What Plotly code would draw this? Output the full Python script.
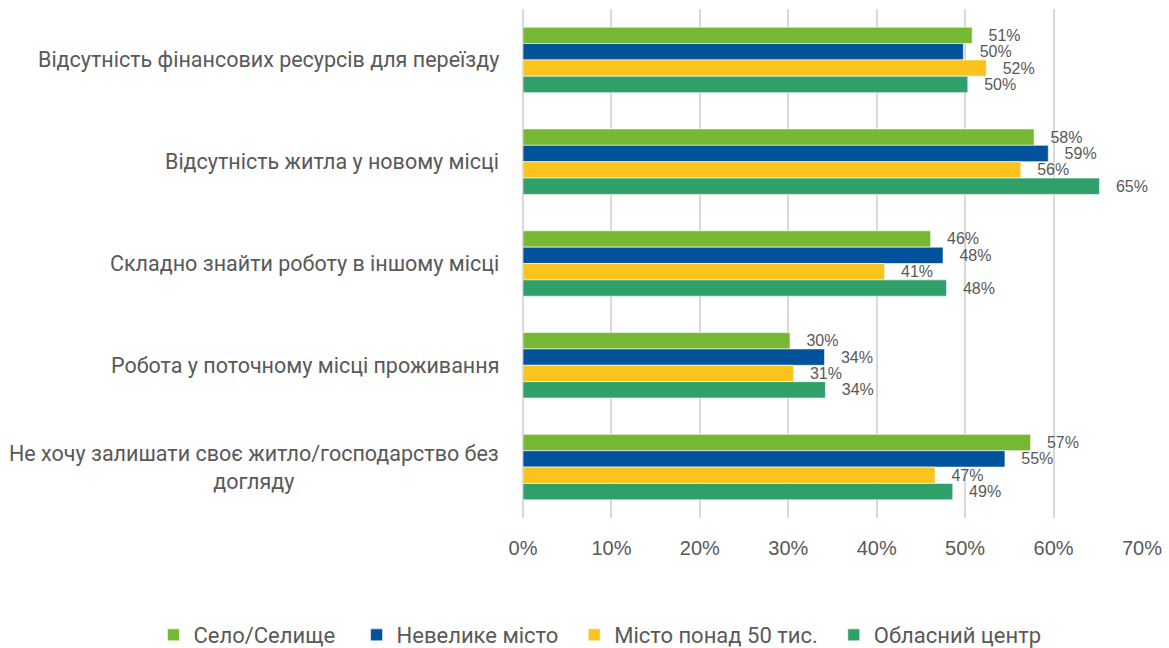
import plotly.graph_objects as go

# Reasons for not relocating, by type of settlement (% of respondents)
categories = [
    "Відсутність фінансових ресурсів для переїзду",
    "Відсутність житла у новому місці",
    "Складно знайти роботу в іншому місці",
    "Робота у поточному місці проживання",
    "Не хочу залишати своє житло/господарство без<br>догляду",
]

series_names = ["Село/Селище", "Невелике місто", "Місто понад 50 тис.", "Обласний центр"]

selo = [50.8, 57.8, 46.1, 30.2, 57.4]
nevelyke = [49.8, 59.4, 47.5, 34.1, 54.5]
misto50 = [52.4, 56.3, 40.9, 30.6, 46.6]
oblcentr = [50.3, 65.2, 47.9, 34.2, 48.6]

series_values = [selo, nevelyke, misto50, oblcentr]
colors = ["#76B833", "#00529B", "#FAC31E", "#2EA068"]

x_ticks = [0, 10, 20, 30, 40, 50, 60, 70]
x_tick_labels = ["0%", "10%", "20%", "30%", "40%", "50%", "60%", "70%"]

grey = "#595959"
# extra room after each legend entry (non-breaking spaces)
legend_pads = ["\u00a0" * 3, "\u00a0" * 2, "\u00a0" * 2, ""]

fig = go.Figure()
for name, pad, vals, col in zip(series_names, legend_pads, series_values, colors):
    fig.add_trace(go.Bar(
        y=categories,
        x=vals,
        name=name + pad,
        orientation="h",
        marker=dict(color=col, line=dict(color="rgba(255,255,255,0.6)", width=1)),
        texttemplate="\u00a0\u00a0\u00a0%{x:.0f}%",
        textposition="outside",
        constraintext="none",
        textfont=dict(family="Liberation Sans, Arial, sans-serif", size=16, color=grey),
        cliponaxis=False,
    ))

# Category labels drawn as annotations so that wrapped lines are centred
for cat in categories:
    fig.add_annotation(
        x=0, xref="paper", y=cat, yref="y",
        xanchor="right", yanchor="middle", xshift=-22,
        text=cat, showarrow=False, align="center",
        font=dict(family="Roboto, sans-serif", size=21.5, color=grey),
    )

fig.update_layout(
    width=1169, height=648,
    margin=dict(l=523, r=27, t=9, b=130, autoexpand=False),
    paper_bgcolor="white", plot_bgcolor="white",
    barmode="group", bargap=0.357, bargroupgap=0,
    showlegend=True,
    legend=dict(
        orientation="h",
        x=-0.597, xanchor="left", y=-0.23, yanchor="middle",
        font=dict(family="Roboto, sans-serif", size=22, color=grey),
        traceorder="normal", itemwidth=30,
    ),
    xaxis=dict(
        range=[0, 70], tickvals=x_ticks, ticktext=x_tick_labels,
        showgrid=True, gridcolor="#D9D9D9", gridwidth=1.5,
        zeroline=True, zerolinecolor="#D9D9D9", zerolinewidth=1.5,
        showline=False, ticks="", ticklabelstandoff=16,
        tickfont=dict(family="Liberation Sans, Arial, sans-serif", size=20, color=grey),
    ),
    yaxis=dict(
        autorange="reversed", showticklabels=False, showgrid=False,
        zeroline=False, showline=False, ticks="",
    ),
)

fig.write_html("out.html")
